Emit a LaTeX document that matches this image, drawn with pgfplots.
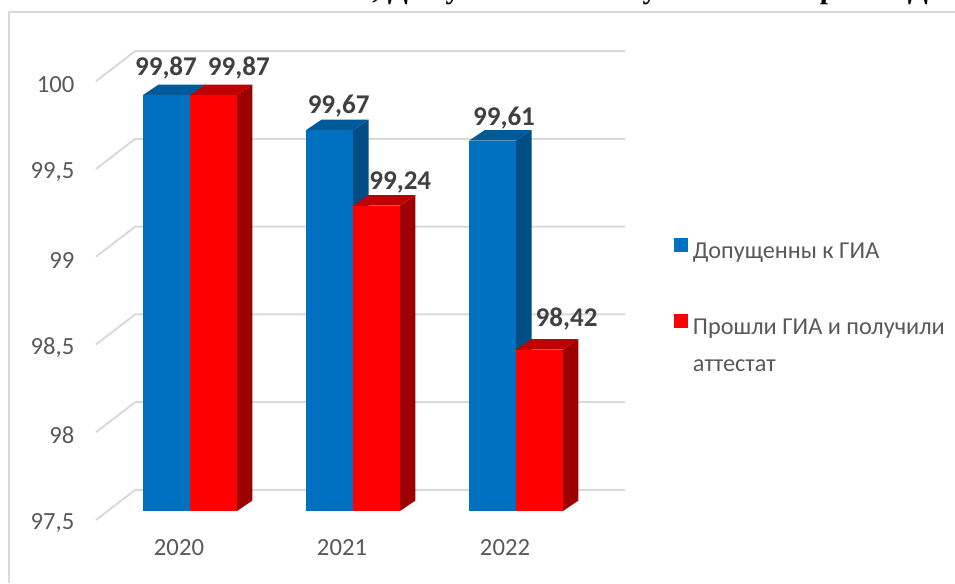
\documentclass[border=0pt]{standalone}
\usepackage{pgfplots}
\pgfplotsset{compat=1.18}
\usepackage{fontspec}
\setmainfont{Carlito}
\newfontfamily\headfont{Liberation Serif}
\definecolor{gridgray}{HTML}{D9D9D9}
\definecolor{txtgray}{HTML}{595959}
\definecolor{lblgray}{HTML}{404040}
\definecolor{bluefront}{HTML}{0070C0}
\definecolor{bluetop}{HTML}{005A9A}
\definecolor{blueside}{HTML}{004E85}
\definecolor{redfront}{HTML}{FF0000}
\definecolor{redtop}{HTML}{C00000}
\definecolor{redside}{HTML}{9C0000}

% 1 px of the reference = 0.75pt, x in years (163 px per year), y in percent (175.5 px per unit)
\newcommand{\gridline}[1]{%
  \pgfmathsetmacro\ga{#1-0.0513}\pgfmathsetmacro\gb{#1+0.1197}%
  \edef\tmp{\noexpand\addplot[gridgray,line width=1.5pt,forget plot] coordinates {(2019.4233,\ga) (2019.6626,\gb) (2022.6687,\gb)};}\tmp}
% left edge, right edge, value, colour prefix
\newcommand{\bardd}[4]{%
  \pgfmathsetmacro\xl{#1}\pgfmathsetmacro\xr{#2}%
  \pgfmathsetmacro\xlb{#1+0.0951}\pgfmathsetmacro\xrb{#2+0.0951}%
  \pgfmathsetmacro\yb{97.5+0.0598}\pgfmathsetmacro\yt{#3+0.0598}%
  \edef\tmp{\noexpand\addplot[fill=#4side,draw=none,forget plot] coordinates {(\xr,97.5) (\xrb,\yb) (\xrb,\yt) (\xr,#3)} --cycle;
    \noexpand\addplot[fill=#4top,draw=none,forget plot] coordinates {(\xl,#3) (\xr,#3) (\xrb,\yt) (\xlb,\yt)} --cycle;}\tmp}
\newcommand{\barfront}[4]{%
  \addplot[fill=#4front,draw=none,forget plot] coordinates {(#1,97.5) (#2,97.5) (#2,#3) (#1,#3)} --cycle;}
% clipped heading letters at the top edge: x in px
\newcommand{\headbit}[2]{\node[overlay,anchor=base,inner sep=0pt,font=\headfont\bfseries\fontsize{22}{24}\selectfont,text=black] at (rel axis cs:#1/955,1.0034) {#2};}

\begin{document}
\begin{tikzpicture}
\begin{axis}[
    scale only axis,
    width=716.25pt, height=437.25pt,
    xmin=2018.8344, xmax=2024.6933,
    ymin=97.0897, ymax=100.4117,
    axis line style={draw=none},
    tick style={draw=none},
    xtick={2020,2021,2022},
    xticklabels={2020,2021,2022},
    ytick={97.5,98,98.5,99,99.5,100},
    yticklabels={{97,5},{98},{98,5},{99},{99,5},{100}},
    xticklabel style={font=\fontsize{18.5}{22}\selectfont,text=txtgray,xshift=-8.25pt,yshift=36pt},
    yticklabel style={font=\fontsize{18.5}{22}\selectfont,text=txtgray,xshift=59.25pt,yshift=-9.25pt},
    legend style={at={(rel axis cs:0.7058,0.592)},anchor=north west,draw=none,fill=none,
      font=\fontsize{18.2}{22}\selectfont,text=txtgray,row sep=38.5pt,inner sep=0pt,
      /tikz/every even column/.append style={column sep=0pt}},
    legend cell align=left,
    legend image code/.code={\fill[#1] (0pt,-0.5pt) rectangle (10.5pt,10pt);},
    nodes near coords style={font=\bfseries\fontsize{20.3}{24}\selectfont,text=lblgray,anchor=center},
]
\gridline{97.5}\gridline{98}\gridline{98.5}\gridline{99}\gridline{99.5}\gridline{100}

\bardd{2019.7117}{2020}{99.87}{blue}
\bardd{2020}{2020.2883}{99.87}{red}
\bardd{2020.7117}{2021}{99.67}{blue}
\bardd{2021}{2021.2883}{99.24}{red}
\bardd{2021.7117}{2022}{99.61}{blue}
\bardd{2022}{2022.2883}{98.42}{red}
\barfront{2019.7117}{2020}{99.87}{blue}
\barfront{2020}{2020.2883}{99.87}{red}
\barfront{2020.7117}{2021}{99.67}{blue}
\barfront{2021}{2021.2883}{99.24}{red}
\barfront{2021.7117}{2022}{99.61}{blue}
\barfront{2022}{2022.2883}{98.42}{red}

% label anchors, placed by eye just above the bar tops
\addplot[draw=none,forget plot,nodes near coords,point meta=explicit symbolic] table[meta=lab] {
x y lab
2019.8527 100.0244 99,87
2020.3000 100.0244 99,87
2020.9123 99.8049 99,67
2021.2900 99.3719 99,24
2021.9264 99.7383 99,61
2022.3100 98.5960 98,42
};

\addlegendimage{fill=bluefront,draw=none}
\addlegendentry{\hspace{1.5pt}Допущенны к ГИА}
\addlegendimage{fill=redfront,draw=none}
\addlegendentry{\hspace{1.5pt}\parbox[t]{192pt}{\baselineskip=28pt Прошли ГИА и получили\\ аттестат}}

\draw[gridgray,line width=1.9pt] (rel axis cs:0.0094,0) -- (rel axis cs:0.0094,0.9794) -- (rel axis cs:1,0.9794);
\headbit{376}{,}\headbit{398}{Д}\headbit{453}{у}\headbit{650}{у}\headbit{828}{р}\headbit{918}{Д}
\end{axis}
\end{tikzpicture}
\end{document}
